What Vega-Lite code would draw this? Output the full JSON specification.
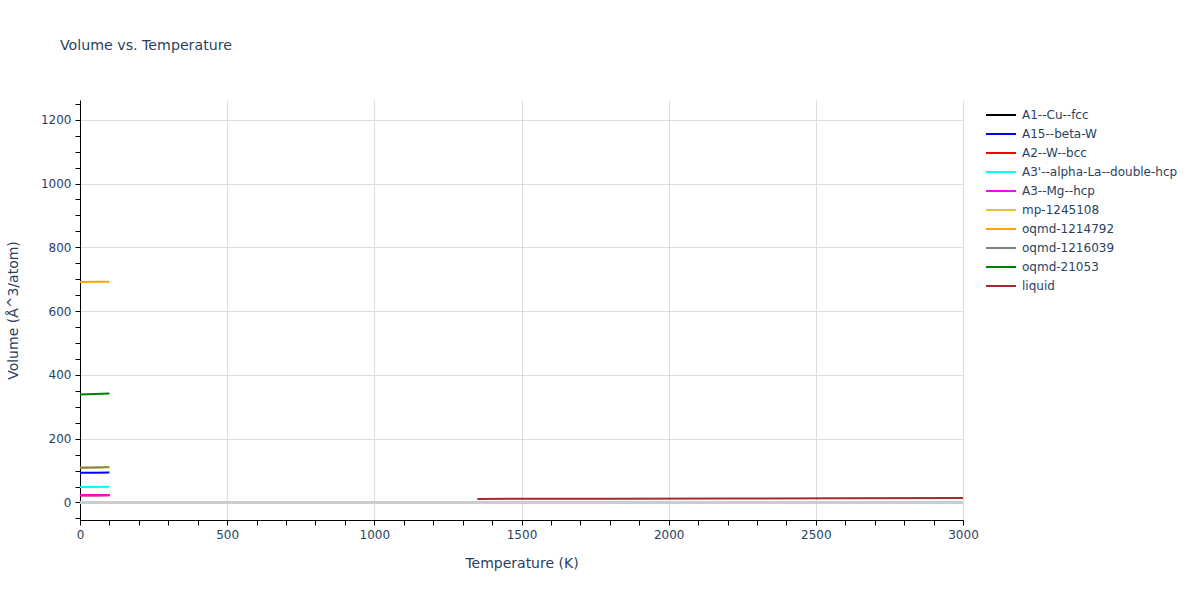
{
  "$schema": "https://vega.github.io/schema/vega-lite/v6.json",
  "width": 883,
  "height": 420,
  "autosize": {"type": "none"},
  "padding": {"left": 80, "top": 100, "right": 237, "bottom": 80},
  "background": "white",
  "config": {
    "view": {"stroke": null},
    "font": "DejaVu Sans",
    "axis": {
      "labelFont": "DejaVu Sans",
      "titleFont": "DejaVu Sans",
      "labelColor": "#2a3f5f",
      "titleColor": "#2a3f5f",
      "labelFontSize": 12,
      "titleFontSize": 14,
      "titleFontWeight": "normal",
      "domainColor": "black",
      "tickColor": "black",
      "tickSize": 5,
      "gridColor": "#dddddd",
      "tickCount": 100
    },
    "legend": {
      "labelFont": "DejaVu Sans",
      "labelColor": "#2a3f5f",
      "labelFontSize": 12
    }
  },
  "title": {
    "text": "Volume vs. Temperature",
    "anchor": "start",
    "frame": "group",
    "dx": -20,
    "offset": 45,
    "fontSize": 14.2,
    "fontWeight": "normal",
    "color": "#2a3f5f",
    "font": "DejaVu Sans"
  },
  "data": {
    "values": [
      {"phase": "A1--Cu--fcc", "T": 0, "V": 22.8},
      {"phase": "A1--Cu--fcc", "T": 50, "V": 23.0},
      {"phase": "A1--Cu--fcc", "T": 100, "V": 23.2},
      {"phase": "A15--beta-W", "T": 0, "V": 93.2},
      {"phase": "A15--beta-W", "T": 50, "V": 93.5},
      {"phase": "A15--beta-W", "T": 100, "V": 93.9},
      {"phase": "A2--W--bcc", "T": 0, "V": 22.6},
      {"phase": "A2--W--bcc", "T": 50, "V": 22.8},
      {"phase": "A2--W--bcc", "T": 100, "V": 23.0},
      {"phase": "A3'--alpha-La--double-hcp", "T": 0, "V": 48.4},
      {"phase": "A3'--alpha-La--double-hcp", "T": 50, "V": 48.7},
      {"phase": "A3'--alpha-La--double-hcp", "T": 100, "V": 49.0},
      {"phase": "A3--Mg--hcp", "T": 0, "V": 22.5},
      {"phase": "A3--Mg--hcp", "T": 50, "V": 22.7},
      {"phase": "A3--Mg--hcp", "T": 100, "V": 22.9},
      {"phase": "mp-1245108", "T": 0, "V": 109.5},
      {"phase": "mp-1245108", "T": 50, "V": 110.0},
      {"phase": "mp-1245108", "T": 100, "V": 110.5},
      {"phase": "oqmd-1214792", "T": 0, "V": 691.5},
      {"phase": "oqmd-1214792", "T": 50, "V": 691.7},
      {"phase": "oqmd-1214792", "T": 100, "V": 692.0},
      {"phase": "oqmd-1216039", "T": 0, "V": 109.0},
      {"phase": "oqmd-1216039", "T": 50, "V": 109.8},
      {"phase": "oqmd-1216039", "T": 100, "V": 110.8},
      {"phase": "oqmd-21053", "T": 0, "V": 338.5},
      {"phase": "oqmd-21053", "T": 50, "V": 340.0},
      {"phase": "oqmd-21053", "T": 100, "V": 342.0},
      {"phase": "liquid", "T": 1350, "V": 11.2},
      {"phase": "liquid", "T": 1800, "V": 11.8},
      {"phase": "liquid", "T": 2200, "V": 12.4},
      {"phase": "liquid", "T": 2600, "V": 13.0},
      {"phase": "liquid", "T": 3000, "V": 13.6}
    ]
  },
  "layer": [
    {
      "mark": {"type": "rule", "color": "#cccccc", "strokeWidth": 2},
      "encoding": {
        "y": {"datum": 0, "type": "quantitative"}
      }
    },
    {
      "mark": {"type": "line", "strokeWidth": 2, "clip": true},
      "encoding": {
        "x": {
          "field": "T",
          "type": "quantitative",
          "title": "Temperature (K)",
          "scale": {"domain": [0, 3000], "nice": false, "zero": false},
          "axis": {
            "values": [0, 100, 200, 300, 400, 500, 600, 700, 800, 900, 1000, 1100, 1200, 1300, 1400, 1500, 1600, 1700, 1800, 1900, 2000, 2100, 2200, 2300, 2400, 2500, 2600, 2700, 2800, 2900, 3000],
            "tickCount": 100,
            "format": "d",
            "grid": true,
            "labelExpr": "datum.value % 500 === 0 ? datum.label : ''",
            "gridOpacity": {"condition": {"test": "datum.value % 500 === 0", "value": 1}, "value": 0},
            "labelPadding": 4,
            "titlePadding": 16,
            "labelFlush": false,
            "labelOverlap": false
          }
        },
        "y": {
          "field": "V",
          "type": "quantitative",
          "title": "Volume (Å^3/atom)",
          "scale": {"domain": [-55, 1262], "nice": false, "zero": false},
          "axis": {
            "values": [-50, 0, 50, 100, 150, 200, 250, 300, 350, 400, 450, 500, 550, 600, 650, 700, 750, 800, 850, 900, 950, 1000, 1050, 1100, 1150, 1200, 1250],
            "tickCount": 100,
            "format": "d",
            "grid": true,
            "labelExpr": "datum.value % 200 === 0 ? datum.label : ''",
            "gridOpacity": {"condition": {"test": "datum.value % 200 === 0", "value": 1}, "value": 0},
            "labelPadding": 4,
            "titlePadding": 20,
            "labelOverlap": false
          }
        },
        "color": {
          "field": "phase",
          "type": "nominal",
          "scale": {
            "domain": ["A1--Cu--fcc", "A15--beta-W", "A2--W--bcc", "A3'--alpha-La--double-hcp", "A3--Mg--hcp", "mp-1245108", "oqmd-1214792", "oqmd-1216039", "oqmd-21053", "liquid"],
            "range": ["#000000", "#0000ff", "#ff0000", "#00ffff", "#ff00ff", "#e6c040", "#ffa500", "#808080", "#008000", "#a52a2a"]
          },
          "legend": {
            "title": null,
            "orient": "none",
            "legendX": 910,
            "legendY": 4,
            "symbolType": "M-1.5,0H1.5",
            "symbolSize": 400,
            "symbolStrokeWidth": 2,
            "rowPadding": 2,
            "labelOffset": 10
          }
        },
        "order": {"field": "T", "type": "quantitative"}
      }
    }
  ]
}
